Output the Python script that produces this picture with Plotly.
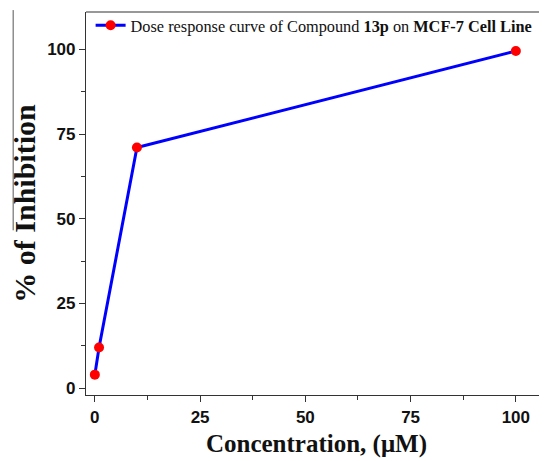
import plotly.graph_objects as go

concentration = [0, 1, 10, 100]
inhibition = [4, 12, 71, 99.5]
x_ticks = [0, 25, 50, 75, 100]
y_ticks = [0, 25, 50, 75, 100]
series_name = "Dose response curve of Compound <b>13p</b> on <b>MCF-7 Cell Line</b>"

fig = go.Figure()
fig.add_trace(go.Scatter(
    x=concentration, y=inhibition, mode="lines+markers", name=series_name,
    line=dict(color="#0000ff", width=3),
    marker=dict(color="#ff0000", size=10),
    showlegend=True,
))

axis_common = dict(
    showgrid=False, zeroline=False, showline=True, linecolor="#333333", linewidth=1.2,
    ticks="outside", ticklen=6, tickcolor="#333333", tickwidth=1.2, automargin=False,
    tickfont=dict(family="Arial, Liberation Sans", size=17, color="#111111", weight="bold"),
    minor=dict(ticks="outside", ticklen=4, tickcolor="#333333", dtick=12.5, showgrid=False),
)

# page body has an 8px default margin, so the figure is sized/offset to compensate
fig.update_layout(
    width=539, height=453,
    margin=dict(l=78, r=0, t=4, b=66),
    plot_bgcolor="white", paper_bgcolor="white",
    xaxis=dict(range=[-2.1, 107.4], tickvals=x_ticks, mirror=False, **axis_common,
               title=dict(text="<b>Concentration, (μM)</b>",
                          font=dict(family="Liberation Serif, Times New Roman", size=25, color="#111111"),
                          standoff=8)),
    yaxis=dict(range=[-2.0, 111], tickvals=y_ticks, **axis_common,
               title=dict(text="<b>% of Inhibition</b>",
                          font=dict(family="Liberation Serif, Times New Roman", size=30, color="#111111"),
                          standoff=10)),
    legend=dict(x=0.01, y=1.01, xanchor="left", yanchor="top",
                bgcolor="rgba(0,0,0,0)", borderwidth=0,
                font=dict(family="Liberation Serif, Times New Roman", size=16.3, color="#111111"),
                itemwidth=30),
    showlegend=True,
)
# top frame line
fig.add_shape(type="line", xref="paper", yref="paper", x0=0, x1=1, y0=1, y1=1,
              line=dict(color="#333333", width=1.2))
# stray vertical line at far left
fig.add_shape(type="line", xref="paper", yref="paper", x0=-0.158, x1=-0.158, y0=1.005, y1=0.43,
              line=dict(color="#555555", width=1))

fig.write_html("out.html")
